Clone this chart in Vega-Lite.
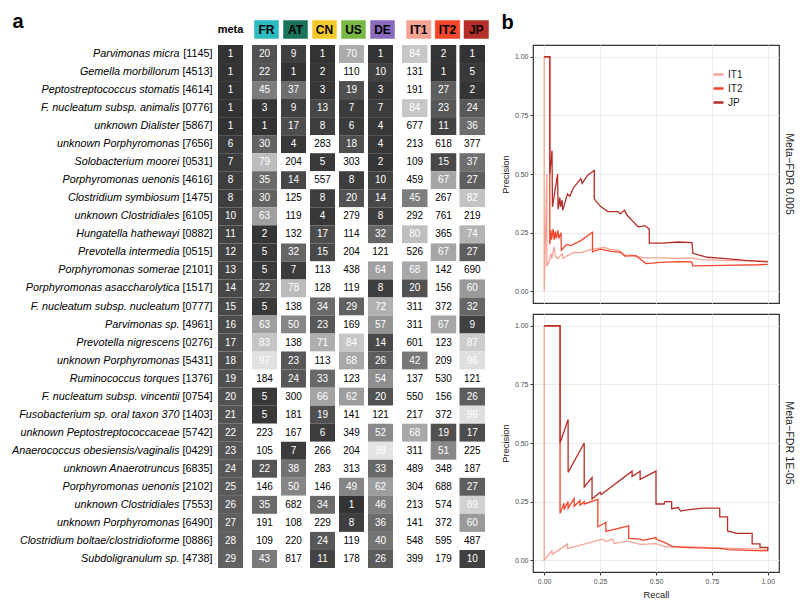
{
  "$schema": "https://vega.github.io/schema/vega-lite/v6.json",
  "padding": {"left": 11, "top": 11, "right": 5, "bottom": 5},
  "background": "white",
  "config": {
    "view": {"stroke": null},
    "font": "Liberation Sans",
    "axis": {"labelFont": "Liberation Sans", "titleFont": "Liberation Sans"},
    "title": {"font": "Liberation Sans"},
    "legend": {"labelFont": "Liberation Sans"}
  },
  "datasets": {
    "tbl": [
      {"sp": "Parvimonas micra [1145]", "meta": 1, "FR": 20, "AT": 9, "CN": 1, "US": 70, "DE": 1, "IT1": 84, "IT2": 2, "JP": 1},
      {"sp": "Gemella morbillorum [4513]", "meta": 1, "FR": 22, "AT": 1, "CN": 2, "US": 110, "DE": 10, "IT1": 131, "IT2": 1, "JP": 5},
      {"sp": "Peptostreptococcus stomatis [4614]", "meta": 1, "FR": 45, "AT": 37, "CN": 3, "US": 19, "DE": 3, "IT1": 191, "IT2": 27, "JP": 2},
      {"sp": "F. nucleatum subsp. animalis [0776]", "meta": 1, "FR": 3, "AT": 9, "CN": 13, "US": 7, "DE": 7, "IT1": 84, "IT2": 23, "JP": 24},
      {"sp": "unknown Dialister [5867]", "meta": 1, "FR": 1, "AT": 17, "CN": 8, "US": 6, "DE": 4, "IT1": 677, "IT2": 11, "JP": 36},
      {"sp": "unknown Porphyromonas [7656]", "meta": 6, "FR": 30, "AT": 4, "CN": 283, "US": 18, "DE": 4, "IT1": 213, "IT2": 618, "JP": 377},
      {"sp": "Solobacterium moorei [0531]", "meta": 7, "FR": 79, "AT": 204, "CN": 5, "US": 303, "DE": 2, "IT1": 109, "IT2": 15, "JP": 37},
      {"sp": "Porphyromonas uenonis [4616]", "meta": 8, "FR": 35, "AT": 14, "CN": 557, "US": 8, "DE": 10, "IT1": 459, "IT2": 67, "JP": 27},
      {"sp": "Clostridium symbiosum [1475]", "meta": 8, "FR": 30, "AT": 125, "CN": 8, "US": 20, "DE": 14, "IT1": 45, "IT2": 267, "JP": 82},
      {"sp": "unknown Clostridiales [6105]", "meta": 10, "FR": 63, "AT": 119, "CN": 4, "US": 279, "DE": 8, "IT1": 292, "IT2": 761, "JP": 219},
      {"sp": "Hungatella hathewayi [0882]", "meta": 11, "FR": 2, "AT": 132, "CN": 17, "US": 114, "DE": 32, "IT1": 80, "IT2": 365, "JP": 74},
      {"sp": "Prevotella intermedia [0515]", "meta": 12, "FR": 5, "AT": 32, "CN": 15, "US": 204, "DE": 121, "IT1": 526, "IT2": 67, "JP": 27},
      {"sp": "Porphyromonas somerae [2101]", "meta": 13, "FR": 5, "AT": 7, "CN": 113, "US": 438, "DE": 64, "IT1": 68, "IT2": 142, "JP": 690},
      {"sp": "Porphyromonas asaccharolytica [1517]", "meta": 14, "FR": 22, "AT": 78, "CN": 128, "US": 119, "DE": 8, "IT1": 20, "IT2": 156, "JP": 60},
      {"sp": "F. nucleatum subsp. nucleatum [0777]", "meta": 15, "FR": 5, "AT": 138, "CN": 34, "US": 29, "DE": 72, "IT1": 311, "IT2": 372, "JP": 32},
      {"sp": "Parvimonas sp. [4961]", "meta": 16, "FR": 63, "AT": 50, "CN": 23, "US": 169, "DE": 57, "IT1": 311, "IT2": 67, "JP": 9},
      {"sp": "Prevotella nigrescens [0276]", "meta": 17, "FR": 83, "AT": 138, "CN": 71, "US": 84, "DE": 14, "IT1": 601, "IT2": 123, "JP": 87},
      {"sp": "unknown Porphyromonas [5431]", "meta": 18, "FR": 97, "AT": 23, "CN": 113, "US": 68, "DE": 26, "IT1": 42, "IT2": 209, "JP": 96},
      {"sp": "Ruminococcus torques [1376]", "meta": 19, "FR": 184, "AT": 24, "CN": 33, "US": 123, "DE": 54, "IT1": 137, "IT2": 530, "JP": 121},
      {"sp": "F. nucleatum subsp. vincentii [0754]", "meta": 20, "FR": 5, "AT": 300, "CN": 66, "US": 62, "DE": 20, "IT1": 550, "IT2": 156, "JP": 26},
      {"sp": "Fusobacterium sp. oral taxon 370 [1403]", "meta": 21, "FR": 5, "AT": 181, "CN": 19, "US": 141, "DE": 121, "IT1": 217, "IT2": 372, "JP": 96},
      {"sp": "unknown Peptostreptococcaceae [5742]", "meta": 22, "FR": 223, "AT": 167, "CN": 6, "US": 349, "DE": 52, "IT1": 68, "IT2": 19, "JP": 17},
      {"sp": "Anaerococcus obesiensis/vaginalis [0429]", "meta": 23, "FR": 105, "AT": 7, "CN": 266, "US": 204, "DE": 98, "IT1": 311, "IT2": 51, "JP": 225},
      {"sp": "unknown Anaerotruncus [6835]", "meta": 24, "FR": 22, "AT": 38, "CN": 283, "US": 313, "DE": 33, "IT1": 489, "IT2": 348, "JP": 187},
      {"sp": "Porphyromonas uenonis [2102]", "meta": 25, "FR": 146, "AT": 50, "CN": 146, "US": 49, "DE": 62, "IT1": 304, "IT2": 688, "JP": 27},
      {"sp": "unknown Clostridiales [7553]", "meta": 26, "FR": 35, "AT": 682, "CN": 34, "US": 1, "DE": 46, "IT1": 213, "IT2": 574, "JP": 89},
      {"sp": "unknown Porphyromonas [6490]", "meta": 27, "FR": 191, "AT": 108, "CN": 229, "US": 8, "DE": 36, "IT1": 141, "IT2": 372, "JP": 60},
      {"sp": "Clostridium boltae/clostridioforme [0886]", "meta": 28, "FR": 109, "AT": 220, "CN": 24, "US": 119, "DE": 40, "IT1": 548, "IT2": 595, "JP": 487},
      {"sp": "Subdoligranulum sp. [4738]", "meta": 29, "FR": 43, "AT": 817, "CN": 11, "US": 178, "DE": 26, "IT1": 399, "IT2": 179, "JP": 10}
    ],
    "pra": [
      {"s": "IT1", "r": 0, "p": 1}, {"s": "IT1", "r": 0, "p": 0}, {"s": "IT1", "r": 0.012, "p": 0.5}, {"s": "IT1", "r": 0.012, "p": 0.11},
      {"s": "IT1", "r": 0.02, "p": 0.12}, {"s": "IT1", "r": 0.03, "p": 0.16}, {"s": "IT1", "r": 0.034, "p": 0.14}, {"s": "IT1", "r": 0.045, "p": 0.19},
      {"s": "IT1", "r": 0.05, "p": 0.15}, {"s": "IT1", "r": 0.06, "p": 0.14}, {"s": "IT1", "r": 0.08, "p": 0.16}, {"s": "IT1", "r": 0.085, "p": 0.14},
      {"s": "IT1", "r": 0.1, "p": 0.15}, {"s": "IT1", "r": 0.134, "p": 0.166}, {"s": "IT1", "r": 0.16, "p": 0.165}, {"s": "IT1", "r": 0.19, "p": 0.172},
      {"s": "IT1", "r": 0.216, "p": 0.18}, {"s": "IT1", "r": 0.27, "p": 0.187}, {"s": "IT1", "r": 0.29, "p": 0.18}, {"s": "IT1", "r": 0.33, "p": 0.175},
      {"s": "IT1", "r": 0.366, "p": 0.152}, {"s": "IT1", "r": 0.39, "p": 0.155}, {"s": "IT1", "r": 0.418, "p": 0.147}, {"s": "IT1", "r": 0.455, "p": 0.142},
      {"s": "IT1", "r": 0.53, "p": 0.142}, {"s": "IT1", "r": 0.6, "p": 0.14}, {"s": "IT1", "r": 0.66, "p": 0.142}, {"s": "IT1", "r": 0.7, "p": 0.135},
      {"s": "IT1", "r": 0.8, "p": 0.132}, {"s": "IT1", "r": 0.9, "p": 0.13}, {"s": "IT1", "r": 1, "p": 0.128},
      {"s": "IT2", "r": 0, "p": 1}, {"s": "IT2", "r": 0.025, "p": 1}, {"s": "IT2", "r": 0.025, "p": 0.2}, {"s": "IT2", "r": 0.03, "p": 0.26},
      {"s": "IT2", "r": 0.033, "p": 0.22}, {"s": "IT2", "r": 0.04, "p": 0.265}, {"s": "IT2", "r": 0.044, "p": 0.22}, {"s": "IT2", "r": 0.05, "p": 0.255},
      {"s": "IT2", "r": 0.053, "p": 0.225}, {"s": "IT2", "r": 0.062, "p": 0.26}, {"s": "IT2", "r": 0.065, "p": 0.225}, {"s": "IT2", "r": 0.075, "p": 0.25},
      {"s": "IT2", "r": 0.077, "p": 0.175}, {"s": "IT2", "r": 0.1, "p": 0.2}, {"s": "IT2", "r": 0.12, "p": 0.195}, {"s": "IT2", "r": 0.164, "p": 0.216},
      {"s": "IT2", "r": 0.216, "p": 0.252}, {"s": "IT2", "r": 0.216, "p": 0.168}, {"s": "IT2", "r": 0.25, "p": 0.18}, {"s": "IT2", "r": 0.3, "p": 0.17},
      {"s": "IT2", "r": 0.343, "p": 0.166}, {"s": "IT2", "r": 0.36, "p": 0.15}, {"s": "IT2", "r": 0.41, "p": 0.152}, {"s": "IT2", "r": 0.44, "p": 0.13},
      {"s": "IT2", "r": 0.455, "p": 0.118}, {"s": "IT2", "r": 0.52, "p": 0.123}, {"s": "IT2", "r": 0.6, "p": 0.126}, {"s": "IT2", "r": 0.66, "p": 0.125},
      {"s": "IT2", "r": 0.665, "p": 0.108}, {"s": "IT2", "r": 0.8, "p": 0.11}, {"s": "IT2", "r": 0.96, "p": 0.113}, {"s": "IT2", "r": 1, "p": 0.115},
      {"s": "JP", "r": 0, "p": 1}, {"s": "JP", "r": 0.025, "p": 1}, {"s": "JP", "r": 0.025, "p": 0.5}, {"s": "JP", "r": 0.035, "p": 0.6},
      {"s": "JP", "r": 0.037, "p": 0.36}, {"s": "JP", "r": 0.06, "p": 0.5}, {"s": "JP", "r": 0.062, "p": 0.35}, {"s": "JP", "r": 0.07, "p": 0.4},
      {"s": "JP", "r": 0.073, "p": 0.36}, {"s": "JP", "r": 0.08, "p": 0.39}, {"s": "JP", "r": 0.083, "p": 0.345}, {"s": "JP", "r": 0.104, "p": 0.415},
      {"s": "JP", "r": 0.115, "p": 0.405}, {"s": "JP", "r": 0.13, "p": 0.44}, {"s": "JP", "r": 0.164, "p": 0.48}, {"s": "JP", "r": 0.17, "p": 0.46},
      {"s": "JP", "r": 0.194, "p": 0.495}, {"s": "JP", "r": 0.224, "p": 0.515}, {"s": "JP", "r": 0.224, "p": 0.395}, {"s": "JP", "r": 0.235, "p": 0.38},
      {"s": "JP", "r": 0.254, "p": 0.36}, {"s": "JP", "r": 0.285, "p": 0.34}, {"s": "JP", "r": 0.33, "p": 0.34}, {"s": "JP", "r": 0.34, "p": 0.33},
      {"s": "JP", "r": 0.36, "p": 0.345}, {"s": "JP", "r": 0.37, "p": 0.325}, {"s": "JP", "r": 0.4, "p": 0.295}, {"s": "JP", "r": 0.42, "p": 0.275},
      {"s": "JP", "r": 0.45, "p": 0.28}, {"s": "JP", "r": 0.47, "p": 0.265}, {"s": "JP", "r": 0.47, "p": 0.205}, {"s": "JP", "r": 0.53, "p": 0.205},
      {"s": "JP", "r": 0.6, "p": 0.21}, {"s": "JP", "r": 0.661, "p": 0.207}, {"s": "JP", "r": 0.665, "p": 0.162}, {"s": "JP", "r": 0.69, "p": 0.155},
      {"s": "JP", "r": 0.73, "p": 0.145}, {"s": "JP", "r": 0.8, "p": 0.14}, {"s": "JP", "r": 0.9, "p": 0.132}, {"s": "JP", "r": 1, "p": 0.125}
    ],
    "prb": [
      {"s": "IT1", "r": 0, "p": 1}, {"s": "IT1", "r": 0, "p": 0}, {"s": "IT1", "r": 0.034, "p": 0.04}, {"s": "IT1", "r": 0.036, "p": 0.025},
      {"s": "IT1", "r": 0.104, "p": 0.069}, {"s": "IT1", "r": 0.104, "p": 0.05}, {"s": "IT1", "r": 0.261, "p": 0.09}, {"s": "IT1", "r": 0.276, "p": 0.08},
      {"s": "IT1", "r": 0.306, "p": 0.09}, {"s": "IT1", "r": 0.313, "p": 0.071}, {"s": "IT1", "r": 0.373, "p": 0.083}, {"s": "IT1", "r": 0.4, "p": 0.075},
      {"s": "IT1", "r": 0.43, "p": 0.068}, {"s": "IT1", "r": 0.5, "p": 0.071}, {"s": "IT1", "r": 0.545, "p": 0.057}, {"s": "IT1", "r": 0.62, "p": 0.058},
      {"s": "IT1", "r": 0.8, "p": 0.052}, {"s": "IT1", "r": 1, "p": 0.047},
      {"s": "IT2", "r": 0, "p": 1}, {"s": "IT2", "r": 0.071, "p": 1}, {"s": "IT2", "r": 0.071, "p": 0.2}, {"s": "IT2", "r": 0.089, "p": 0.243},
      {"s": "IT2", "r": 0.089, "p": 0.217}, {"s": "IT2", "r": 0.107, "p": 0.25}, {"s": "IT2", "r": 0.107, "p": 0.222}, {"s": "IT2", "r": 0.134, "p": 0.263},
      {"s": "IT2", "r": 0.134, "p": 0.23}, {"s": "IT2", "r": 0.16, "p": 0.255}, {"s": "IT2", "r": 0.16, "p": 0.235}, {"s": "IT2", "r": 0.179, "p": 0.25},
      {"s": "IT2", "r": 0.179, "p": 0.24}, {"s": "IT2", "r": 0.24, "p": 0.26}, {"s": "IT2", "r": 0.24, "p": 0.143}, {"s": "IT2", "r": 0.276, "p": 0.161},
      {"s": "IT2", "r": 0.276, "p": 0.123}, {"s": "IT2", "r": 0.378, "p": 0.147}, {"s": "IT2", "r": 0.378, "p": 0.093}, {"s": "IT2", "r": 0.43, "p": 0.09},
      {"s": "IT2", "r": 0.44, "p": 0.085}, {"s": "IT2", "r": 0.5, "p": 0.097}, {"s": "IT2", "r": 0.5, "p": 0.09}, {"s": "IT2", "r": 0.54, "p": 0.075},
      {"s": "IT2", "r": 0.57, "p": 0.06}, {"s": "IT2", "r": 0.62, "p": 0.055}, {"s": "IT2", "r": 0.8, "p": 0.05}, {"s": "IT2", "r": 0.82, "p": 0.045},
      {"s": "IT2", "r": 1, "p": 0.04},
      {"s": "JP", "r": 0, "p": 1}, {"s": "JP", "r": 0.071, "p": 1}, {"s": "JP", "r": 0.071, "p": 0.5}, {"s": "JP", "r": 0.107, "p": 0.6},
      {"s": "JP", "r": 0.107, "p": 0.375}, {"s": "JP", "r": 0.179, "p": 0.5}, {"s": "JP", "r": 0.179, "p": 0.313}, {"s": "JP", "r": 0.214, "p": 0.353},
      {"s": "JP", "r": 0.214, "p": 0.261}, {"s": "JP", "r": 0.25, "p": 0.29}, {"s": "JP", "r": 0.255, "p": 0.28}, {"s": "JP", "r": 0.393, "p": 0.38},
      {"s": "JP", "r": 0.393, "p": 0.357}, {"s": "JP", "r": 0.429, "p": 0.38}, {"s": "JP", "r": 0.429, "p": 0.345}, {"s": "JP", "r": 0.5, "p": 0.38},
      {"s": "JP", "r": 0.5, "p": 0.24}, {"s": "JP", "r": 0.536, "p": 0.24}, {"s": "JP", "r": 0.54, "p": 0.25}, {"s": "JP", "r": 0.57, "p": 0.25},
      {"s": "JP", "r": 0.57, "p": 0.22}, {"s": "JP", "r": 0.6, "p": 0.225}, {"s": "JP", "r": 0.61, "p": 0.21}, {"s": "JP", "r": 0.64, "p": 0.215},
      {"s": "JP", "r": 0.71, "p": 0.222}, {"s": "JP", "r": 0.785, "p": 0.222}, {"s": "JP", "r": 0.785, "p": 0.185}, {"s": "JP", "r": 0.82, "p": 0.185},
      {"s": "JP", "r": 0.82, "p": 0.125}, {"s": "JP", "r": 0.86, "p": 0.115}, {"s": "JP", "r": 0.93, "p": 0.115}, {"s": "JP", "r": 0.93, "p": 0.07},
      {"s": "JP", "r": 0.965, "p": 0.07}, {"s": "JP", "r": 0.965, "p": 0.055}, {"s": "JP", "r": 1, "p": 0.055}, {"s": "JP", "r": 1, "p": 0.04}
    ]
  },
  "vconcat": [
    {
      "hconcat": [
        {
          "data": {"values": [{"k": "meta"}]},
          "width": 25, "height": 19,
          "mark": {"type": "text", "fontWeight": "bold", "fontSize": 11, "font": "Liberation Sans", "color": "black"},
          "encoding": {
            "x": {"field": "k", "type": "nominal", "axis": null, "scale": {"paddingInner": 0, "paddingOuter": 0}},
            "y": {"field": "k", "type": "nominal", "scale": {"paddingInner": 0, "paddingOuter": 0},
              "axis": {"labels": false, "ticks": false, "domain": false, "title": "a", "titleAngle": 0, "titleX": -206, "titleY": 7, "titleAlign": "left", "titleBaseline": "alphabetic", "titleFontSize": 20, "titleFontWeight": "bold", "titleColor": "black"}},
            "text": {"field": "k"}
          }
        },
        {
          "data": {"values": [{"k": "FR"}, {"k": "AT"}, {"k": "CN"}, {"k": "US"}, {"k": "DE"}]},
          "width": 141, "height": 19,
          "encoding": {
            "x": {"field": "k", "type": "nominal", "axis": null, "scale": {"domain": ["FR", "AT", "CN", "US", "DE"], "paddingInner": 0.138, "paddingOuter": 0}}
          },
          "layer": [
            {
              "mark": {"type": "rect", "stroke": "white", "strokeOpacity": 0.5, "strokeWidth": 1},
              "encoding": {
                "color": {"field": "k", "type": "nominal", "legend": null, "scale": {"domain": ["FR", "AT", "CN", "US", "DE", "IT1", "IT2", "JP"], "range": ["#2bbbc0", "#18735a", "#f4c92a", "#78b843", "#8a6bbd", "#f6a394", "#f2462a", "#b52f28"]}}
              }
            },
            {
              "mark": {"type": "text", "fontWeight": "bold", "fontSize": 12, "font": "Liberation Sans", "color": "black"},
              "encoding": {"text": {"field": "k"}}
            }
          ]
        },
        {
          "data": {"values": [{"k": "IT1"}, {"k": "IT2"}, {"k": "JP"}]},
          "width": 83, "height": 19,
          "encoding": {
            "x": {"field": "k", "type": "nominal", "scale": {"domain": ["IT1", "IT2", "JP"], "paddingInner": 0.113, "paddingOuter": 0},
              "axis": {"orient": "top", "labels": false, "ticks": false, "domain": false, "grid": false, "title": "b", "titleAngle": 0, "titleX": 95, "titleY": 8, "titleAlign": "left", "titleBaseline": "alphabetic", "titleFontSize": 20, "titleFontWeight": "bold", "titleColor": "black"}}
          },
          "layer": [
            {
              "mark": {"type": "rect", "stroke": "white", "strokeOpacity": 0.5, "strokeWidth": 1},
              "encoding": {
                "color": {"field": "k", "type": "nominal", "legend": null, "scale": {"domain": ["FR", "AT", "CN", "US", "DE", "IT1", "IT2", "JP"], "range": ["#2bbbc0", "#18735a", "#f4c92a", "#78b843", "#8a6bbd", "#f6a394", "#f2462a", "#b52f28"]}}
              }
            },
            {
              "mark": {"type": "text", "fontWeight": "bold", "fontSize": 12, "font": "Liberation Sans", "color": "black"},
              "encoding": {"text": {"field": "k"}}
            }
          ]
        }
      ],
      "spacing": 9
    },
    {
      "hconcat": [
        {
          "hconcat": [
            {
              "data": {"name": "tbl"},
              "transform": [{"fold": ["meta"], "as": ["k", "v"]}],
              "width": 25, "height": 523,
              "layer": [
                {
                  "mark": "rect",
                  "encoding": {
                    "x": {"field": "k", "type": "nominal", "axis": null, "scale": {"paddingInner": 0, "paddingOuter": 0}},
                    "y": {"field": "sp", "type": "nominal", "sort": null, "scale": {"paddingInner": 0, "paddingOuter": 0},
                      "axis": {"orient": "left", "title": null, "domain": false, "ticks": false, "labelPadding": 6, "labelFontSize": 10.8, "labelColor": "black", "labelLimit": 300, "labelExpr": "slice(datum.label, indexof(datum.label, '['))"}},
                    "fill": {"condition": {"test": "datum.v > 100", "value": "white"}, "field": "v", "type": "quantitative", "legend": null, "scale": {"domain": [1, 100], "range": ["#333333", "#e7e7e7"]}}
                  }
                },
                {
                  "mark": {"type": "text", "fontSize": 10, "font": "Liberation Sans"},
                  "encoding": {
                    "x": {"field": "k", "type": "nominal", "axis": null},
                    "y": {"field": "sp", "type": "nominal", "sort": null,
                      "axis": {"orient": "left", "title": null, "domain": false, "ticks": false, "labelPadding": 39, "labelFontSize": 10.8, "labelFontStyle": "italic", "labelColor": "black", "labelLimit": 300, "labelExpr": "slice(datum.label, 0, indexof(datum.label, ' ['))"}},
                    "text": {"field": "v"},
                    "color": {"condition": {"test": "datum.v > 100", "value": "black"}, "value": "white"}
                  }
                }
              ],
              "resolve": {"axis": {"y": "independent"}}
            },
            {
              "data": {"name": "tbl"},
              "transform": [{"fold": ["FR", "AT", "CN", "US", "DE"], "as": ["k", "v"]}],
              "width": 141, "height": 523,
              "encoding": {
                "x": {"field": "k", "type": "nominal", "axis": null, "scale": {"domain": ["FR", "AT", "CN", "US", "DE"], "paddingInner": 0.138, "paddingOuter": 0}},
                "y": {"field": "sp", "type": "nominal", "sort": null, "axis": null, "scale": {"paddingInner": 0, "paddingOuter": 0}}
              },
              "layer": [
                {
                  "mark": "rect",
                  "encoding": {
                    "fill": {"condition": {"test": "datum.v > 100", "value": "white"}, "field": "v", "type": "quantitative", "legend": null, "scale": {"domain": [1, 100], "range": ["#333333", "#e7e7e7"]}}
                  }
                },
                {
                  "mark": {"type": "text", "fontSize": 10, "font": "Liberation Sans"},
                  "encoding": {
                    "text": {"field": "v"},
                    "color": {"condition": {"test": "datum.v > 100", "value": "black"}, "value": "white"}
                  }
                }
              ]
            },
            {
              "data": {"name": "tbl"},
              "transform": [{"fold": ["IT1", "IT2", "JP"], "as": ["k", "v"]}],
              "width": 83, "height": 523,
              "encoding": {
                "x": {"field": "k", "type": "nominal", "axis": null, "scale": {"domain": ["IT1", "IT2", "JP"], "paddingInner": 0.113, "paddingOuter": 0}},
                "y": {"field": "sp", "type": "nominal", "sort": null, "axis": null, "scale": {"paddingInner": 0, "paddingOuter": 0}}
              },
              "layer": [
                {
                  "mark": "rect",
                  "encoding": {
                    "fill": {"condition": {"test": "datum.v > 100", "value": "white"}, "field": "v", "type": "quantitative", "legend": null, "scale": {"domain": [1, 100], "range": ["#333333", "#e7e7e7"]}}
                  }
                },
                {
                  "mark": {"type": "text", "fontSize": 10, "font": "Liberation Sans"},
                  "encoding": {
                    "text": {"field": "v"},
                    "color": {"condition": {"test": "datum.v > 100", "value": "black"}, "value": "white"}
                  }
                }
              ]
            }
          ],
          "spacing": 9
        },
        {
          "vconcat": [
            {
              "data": {"name": "pra"},
              "width": 246, "height": 258,
              "view": {"stroke": "#333333", "strokeWidth": 1.2},
              "title": {"text": "Meta−FDR 0.005", "orient": "right", "anchor": "middle", "angle": 90, "fontSize": 10.7, "fontWeight": "normal", "offset": 4, "color": "#1a1a1a"},
              "mark": {"type": "line", "strokeWidth": 1.3, "clip": true},
              "encoding": {
                "x": {"field": "r", "type": "quantitative", "scale": {"domain": [-0.05, 1.05], "nice": false, "zero": false},
                  "axis": {"values": [0, 0.25, 0.5, 0.75, 1], "labels": false, "ticks": false, "domain": false, "grid": true, "gridColor": "#ebebeb", "title": null}},
                "y": {"field": "p", "type": "quantitative", "scale": {"domain": [-0.05, 1.05], "nice": false, "zero": false},
                  "axis": {"values": [0, 0.25, 0.5, 0.75, 1], "format": ".2f", "grid": true, "gridColor": "#ebebeb", "domain": false, "tickSize": 3, "tickColor": "#333333", "labelFontSize": 7, "labelColor": "#4d4d4d", "labelPadding": 2, "labelOverlap": false, "labelFlush": false, "title": "Precision", "titleFontSize": 9.3, "titleFontWeight": "normal", "titlePadding": 4, "titleColor": "#1a1a1a"}},
                "stroke": {"field": "s", "type": "nominal", "scale": {"domain": ["IT1", "IT2", "JP"], "range": ["#f6a394", "#f2462a", "#b52f28"]},
                  "legend": {"orient": "none", "legendX": 179, "legendY": 23, "title": null, "symbolType": "stroke", "symbolSize": 100, "symbolStrokeWidth": 2.5, "labelFontSize": 10, "rowPadding": 2, "padding": 0, "labelOffset": 3, "labelColor": "#1a1a1a"}},
                "order": {"value": null}
              }
            },
            {
              "data": {"name": "prb"},
              "width": 246, "height": 258,
              "view": {"stroke": "#333333", "strokeWidth": 1.2},
              "title": {"text": "Meta−FDR 1E-05", "orient": "right", "anchor": "middle", "angle": 90, "fontSize": 10.7, "fontWeight": "normal", "offset": 4, "color": "#1a1a1a"},
              "mark": {"type": "line", "strokeWidth": 1.3, "clip": true},
              "encoding": {
                "x": {"field": "r", "type": "quantitative", "scale": {"domain": [-0.05, 1.05], "nice": false, "zero": false},
                  "axis": {"values": [0, 0.25, 0.5, 0.75, 1], "format": ".2f", "grid": true, "gridColor": "#ebebeb", "domain": false, "tickSize": 3, "tickColor": "#333333", "labelFontSize": 7, "labelColor": "#4d4d4d", "labelPadding": 2, "labelOverlap": false, "labelFlush": false, "title": "Recall", "titleFontSize": 9.3, "titleFontWeight": "normal", "titlePadding": 6, "titleColor": "#1a1a1a"}},
                "y": {"field": "p", "type": "quantitative", "scale": {"domain": [-0.05, 1.05], "nice": false, "zero": false},
                  "axis": {"values": [0, 0.25, 0.5, 0.75, 1], "format": ".2f", "grid": true, "gridColor": "#ebebeb", "domain": false, "tickSize": 3, "tickColor": "#333333", "labelFontSize": 7, "labelColor": "#4d4d4d", "labelPadding": 2, "labelOverlap": false, "labelFlush": false, "title": "Precision", "titleFontSize": 9.3, "titleFontWeight": "normal", "titlePadding": 4, "titleColor": "#1a1a1a"}},
                "stroke": {"field": "s", "type": "nominal", "legend": null, "scale": {"domain": ["IT1", "IT2", "JP"], "range": ["#f6a394", "#f2462a", "#b52f28"]}},
                "order": {"value": null}
              }
            }
          ],
          "spacing": 9,
          "resolve": {"scale": {"stroke": "independent"}, "legend": {"stroke": "independent"}}
        }
      ],
      "spacing": 15,
      "resolve": {"scale": {"stroke": "independent"}, "legend": {"stroke": "independent"}}
    }
  ],
  "spacing": 4,
  "resolve": {"scale": {"stroke": "independent"}, "legend": {"stroke": "independent"}}
}
